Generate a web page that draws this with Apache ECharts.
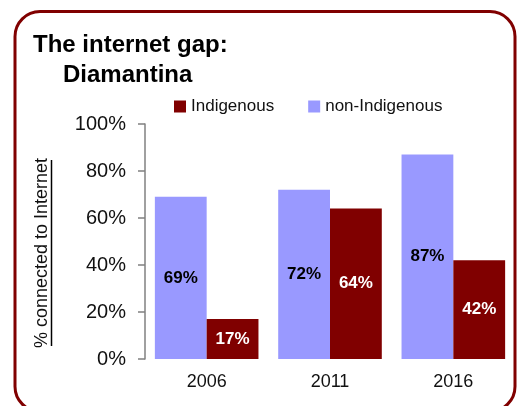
<!DOCTYPE html>
<html>
<head>
<meta charset="utf-8">
<style>
  html, body { margin: 0; padding: 0; background: #ffffff; }
  #chart { width: 520px; height: 406px; }
</style>
<script src="https://cdn.jsdelivr.net/npm/echarts@6/dist/echarts.min.js"></script>
</head>
<body>
<div id="chart"></div>
<script>
// Census years
const years = ['2006', '2011', '2016'];
// Share of households connected to the internet (%)
const nonIndigenous = [69, 72, 87];
const indigenous = [17, 64, 42];
// Y axis ticks
const yTicks = [0, 20, 40, 60, 80, 100];

const seriesNames = ['Indigenous', 'non-Indigenous'];
const colors = { 'Indigenous': '#800000', 'non-Indigenous': '#9999ff' };
const regular = "'Liberation Sans', Arial, sans-serif";

const chart = echarts.init(document.getElementById('chart'), null, { renderer: 'canvas' });

chart.setOption({
  animation: false,
  backgroundColor: '#ffffff',
  title: [
    { text: 'The internet gap:', left: 33, top: 33, padding: 0,
      textStyle: { fontFamily: regular, fontSize: 24, fontWeight: 'bold', color: '#000' } },
    { text: 'Diamantina', left: 63, top: 63, padding: 0,
      textStyle: { fontFamily: regular, fontSize: 24, fontWeight: 'bold', color: '#000' } }
  ],
  legend: {
    data: seriesNames,
    left: 174, top: 98, padding: 0,
    itemWidth: 12, itemHeight: 12, itemGap: 34,
    icon: 'rect',
    textStyle: { fontFamily: regular, fontSize: 17, color: '#111' }
  },
  grid: { left: 145, right: 5, top: 124, bottom: 47, containLabel: false },
  xAxis: {
    type: 'category',
    data: years,
    axisLine: { show: false },
    axisTick: { show: false },
    axisLabel: { margin: 14, fontFamily: regular, fontSize: 18, color: '#111' }
  },
  yAxis: {
    type: 'value',
    min: yTicks[0], max: yTicks[yTicks.length - 1], interval: yTicks[1] - yTicks[0],
    axisLine: { show: true, lineStyle: { color: '#808080', width: 1.5 } },
    axisTick: { show: true, length: 7, lineStyle: { color: '#808080', width: 1.5 } },
    splitLine: { show: false },
    axisLabel: { margin: 19, fontFamily: regular, fontSize: 20, color: '#111', formatter: '{value}%' }
  },
  series: [
    {
      name: 'non-Indigenous', type: 'bar', data: nonIndigenous,
      barGap: '0%', barCategoryGap: '16%',
      itemStyle: { color: colors['non-Indigenous'] },
      label: { show: true, position: 'inside', formatter: '{c}%',
        fontFamily: regular, fontSize: 17, fontWeight: 'bold', color: '#000' }
    },
    {
      name: 'Indigenous', type: 'bar', data: indigenous,
      barGap: '0%', barCategoryGap: '16%',
      itemStyle: { color: colors['Indigenous'] },
      label: { show: true, position: 'inside', formatter: '{c}%',
        fontFamily: regular, fontSize: 17, fontWeight: 'bold', color: '#fff' }
    }
  ],
  graphic: [
    // rounded frame
    { type: 'rect', shape: { x: 15, y: 11.5, width: 500, height: 400, r: 25 },
      style: { fill: 'none', stroke: '#800000', lineWidth: 3 }, z: 10, silent: true },
    // y axis title, underlined
    { type: 'text', x: 42, y: 253, rotation: Math.PI / 2,
      style: { text: '% connected to Internet', fontFamily: regular, fontSize: 18,
        fill: '#111', align: 'center', verticalAlign: 'middle' } },
    { type: 'line', shape: { x1: 51.5, y1: 160, x2: 51.5, y2: 346 },
      style: { stroke: '#000', lineWidth: 1.5 } }
  ]
});
</script>
</body>
</html>
